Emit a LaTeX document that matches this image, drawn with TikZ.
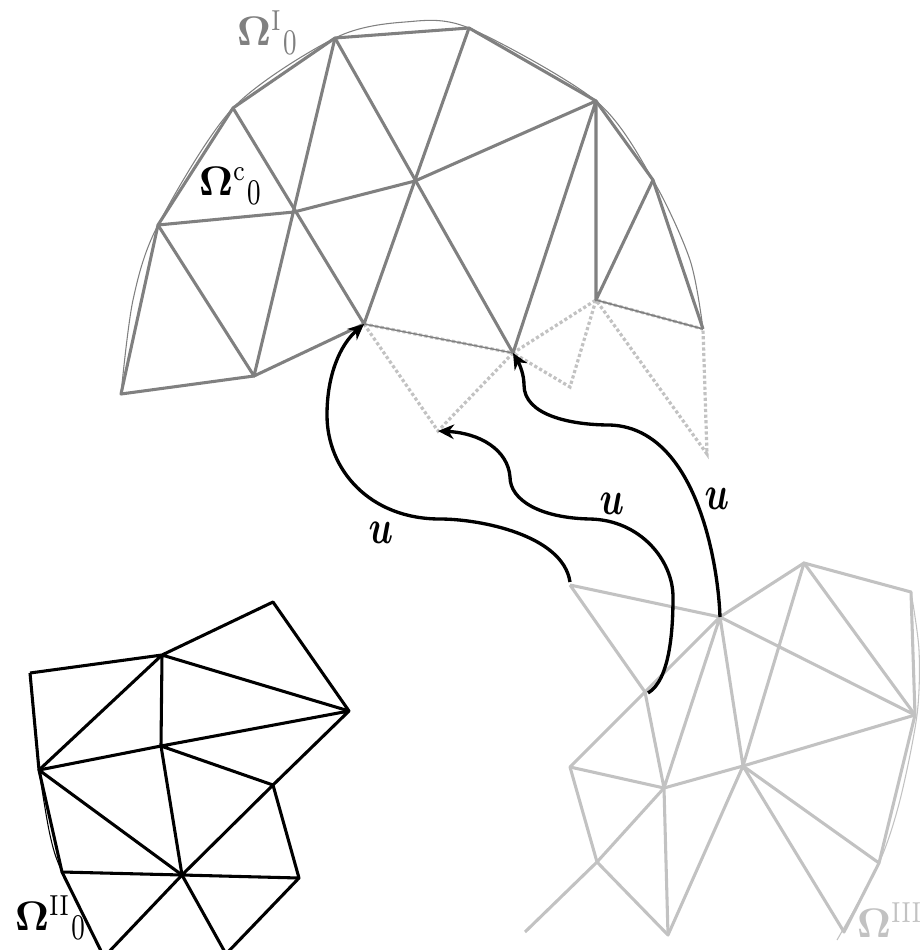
\documentclass[tikz,border=0pt]{standalone}
\usepackage{amsmath}
\usetikzlibrary{arrows.meta, positioning}
\definecolor{meshgray}{gray}{0.5}
\definecolor{lightmesh}{gray}{0.76}
\newcommand{\domlabel}[1]{$\mathbf{\Omega}^{\scalebox{0.8}[1]{$\scriptstyle\mathrm{#1}$}}{}_{\scalebox{0.85}[1.25]{$\scriptstyle 0$}}$}
\begin{document}
\begin{tikzpicture}[
    x=0.75pt, y=-0.75pt,
    edge/.style={line width=2.3pt, line join=round},
    meshone/.style={edge, draw=meshgray},
    meshtwo/.style={edge, draw=black},
    meshthree/.style={edge, draw=lightmesh},
    hidden/.style={line width=2.4pt, draw=lightmesh, dash pattern=on 2.4pt off 1.8pt},
    rim/.style={line width=0.8pt},
    dom/.style={anchor=base west, inner sep=0pt, scale=3.1, transform shape},
    map/.style={line width=2.5pt, -{Stealth[length=12pt,width=11pt]}},
    maplabel/.style={inner sep=0pt, xscale=2.7, yscale=3.6, transform shape}
]
    \clip (0,0) rectangle (921,950);

    % Mesh I vertices
    \coordinate (A1) at (121,394);
    \coordinate (B1) at (158,225);
    \coordinate (C1) at (233,108);
    \coordinate (D1) at (335,38);
    \coordinate (E1) at (469,28);
    \coordinate (F1) at (596,101);
    \coordinate (G1) at (653,180);
    \coordinate (H1) at (703,329);
    \coordinate (P1) at (294,212);
    \coordinate (Q1) at (415,181);
    \coordinate (R1) at (254,376);
    \coordinate (S1) at (364,324);
    \coordinate (T1) at (513,353);
    \coordinate (U1) at (596,300);
    \coordinate (V1) at (438,431);
    \coordinate (W1) at (570,387);
    \coordinate (X1) at (707,454);

    % Mesh I
    \draw[hidden] (S1) -- (V1) -- (T1) -- (W1) -- (U1) -- (X1) -- (H1);
    \draw[hidden] (S1) -- (T1) -- (U1) -- (H1);
    \draw[meshone, rim] plot[smooth] coordinates {(121,394) (133,300) (158,225) (233,108) (335,38) (405,22) (469,28) (596,101) (653,180) (690,260) (703,329)};
    \draw[meshone] (H1) -- (G1) -- (F1) -- (E1) -- (D1) -- (C1) -- (B1) -- (A1) -- (R1) -- (S1);
    \draw[meshone] (B1) -- (P1) -- (Q1) -- (F1);
    \draw[meshone] (B1) -- (R1) -- (D1);
    \draw[meshone] (C1) -- (S1) -- (E1);
    \draw[meshone] (D1) -- (T1) -- (F1) -- (U1) -- (G1);
    \draw[meshone, line width=1pt] (S1) -- (T1);
    \draw[meshone, line width=1.2pt] (U1) -- (H1);

    % Mesh II vertices
    \coordinate (A2) at (30,673);
    \coordinate (B2) at (162,655);
    \coordinate (C2) at (273,602);
    \coordinate (D2) at (349,711);
    \coordinate (E2) at (161,746);
    \coordinate (F2) at (39,770);
    \coordinate (G2) at (273,785);
    \coordinate (H2) at (182,875);
    \coordinate (I2) at (299,878);
    \coordinate (J2) at (62,872);
    \coordinate (K2) at (104,957);
    \coordinate (L2) at (226,954);

    % Mesh II
    \draw[meshtwo] (A2) -- (B2) -- (C2) -- (D2) -- (B2) -- (F2) -- (A2);
    \draw[meshtwo] (B2) -- (E2) -- (F2) -- (J2) -- (K2) -- (H2) -- (F2);
    \draw[meshtwo] (D2) -- (E2) -- (G2) -- (D2);
    \draw[meshtwo] (E2) -- (H2) -- (G2) -- (I2) -- (H2) -- (J2);
    \draw[meshtwo] (H2) -- (L2) -- (I2);
    \draw[meshtwo, rim] plot[smooth] coordinates {(30,673) (36,740) (39,770) (50,835) (62,872) (100,949)};

    % Mesh III vertices
    \coordinate (A3) at (570,585);
    \coordinate (B3) at (720,617);
    \coordinate (C3) at (804,563);
    \coordinate (D3) at (911,592);
    \coordinate (E3) at (915,715);
    \coordinate (F3) at (743,766);
    \coordinate (G3) at (645,692);
    \coordinate (H3) at (570,767);
    \coordinate (I3) at (664,788);
    \coordinate (J3) at (597,862);
    \coordinate (K3) at (668,935);
    \coordinate (L3) at (844,932);
    \coordinate (M3) at (879,863);
    \coordinate (N3) at (525,932);

    % Mesh III
    \draw[meshthree] (A3) -- (B3) -- (C3) -- (D3) -- (E3) -- (M3) -- (L3) -- (F3) -- (K3) -- (J3) -- (H3) -- (G3) -- (A3);
    \draw[meshthree] (G3) -- (B3) -- (E3) -- (C3) -- (F3) -- (B3) -- (I3) -- (G3);
    \draw[meshthree] (H3) -- (I3) -- (F3) -- (E3);
    \draw[meshthree] (F3) -- (M3);
    \draw[meshthree] (I3) -- (J3) -- (N3);
    \draw[meshthree] (I3) -- (K3);
    \draw[lightmesh, rim] plot[smooth] coordinates {(911,592) (919,650) (917,715) (900,800) (879,863) (837,940)};

    % Mappings
    \draw[map] (A3) ++(0,-3) .. controls (563,535) and (480,519) .. (440,519)
        .. controls (370,519) and (327,470) .. (327,415)
        .. controls (327,375) and (340,345) .. (S1);
    \draw[map] (G3) ++(3,1) .. controls (670,680) and (673,630) .. (673,597)
        .. controls (673,560) and (640,520) .. (590,519)
        .. controls (540,518) and (510,500) .. (510,477)
        .. controls (508,450) and (480,433) .. (V1);
    \draw[map] (B3) .. controls (718,560) and (695,428) .. (610,425)
        .. controls (570,425) and (524,415) .. (524,385)
        .. controls (524,375) and (520,365) .. (T1);

    % Labels
    \node[dom, text=meshgray] (omegaone) at (236,45) {\domlabel{I}};
    \node[dom] (omegac) at (198,195) {\domlabel{c}};
    \node[dom] (omegatwo) at (14,930) {\domlabel{II}};
    \node[dom, text=lightmesh] (omegathree) at (856,937) {\domlabel{III}};
    \node[maplabel] (uone) at (381,533) {$\boldsymbol{u}$};
    \node[maplabel] (utwo) at (612,504) {$\boldsymbol{u}$};
    \node[maplabel] (uthree) at (717,499) {$\boldsymbol{u}$};
\end{tikzpicture}
\end{document}
